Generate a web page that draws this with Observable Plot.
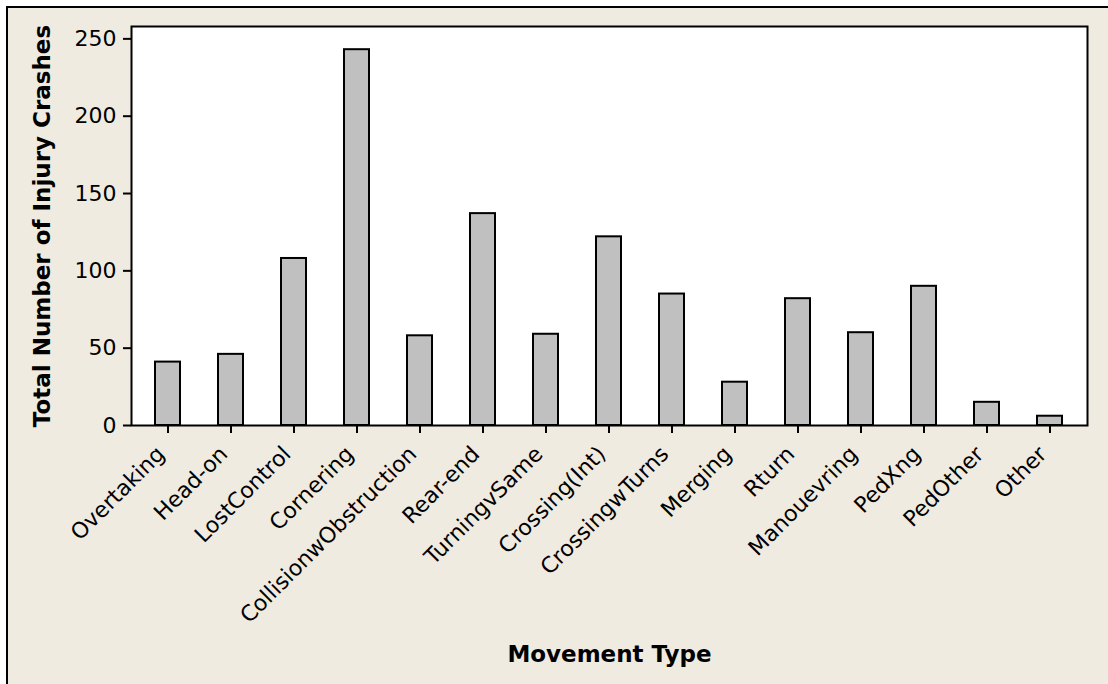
<!DOCTYPE html>
<html>
<head>
<meta charset="utf-8">
<script src="https://cdn.jsdelivr.net/npm/d3@7"></script>
<script src="https://cdn.jsdelivr.net/npm/@observablehq/plot@0.6"></script>
<style>
html,body{margin:0;padding:0;background:#fff;}
#wrap{position:relative;width:1108px;height:684px;overflow:hidden;}
#bg{position:absolute;left:6px;top:6px;right:0;bottom:0;background:#efebe1;border-left:2px solid #000;border-top:2px solid #000;}
#chart{position:absolute;left:0;top:0;}
</style>
</head>
<body>
<div id="wrap"><div id="bg"></div><div id="chart"></div></div>
<script>
const categories = ["Overtaking","Head-on","LostControl","Cornering","CollisionwObstruction","Rear-end","TurningvSame","Crossing(Int)","CrossingwTurns","Merging","Rturn","Manouevring","PedXng","PedOther","Other"];
const counts = [41,46,108,243,58,137,59,122,85,28,82,60,90,15,6];
const yTicks = [0,50,100,150,200,250];
const xTitle = "Movement Type";
const yTitle = "Total Number of Injury Crashes";

const data = categories.map((c, i) => ({type: c, count: counts[i]}));

const chart = Plot.plot({
  width: 1108,
  height: 684,
  marginLeft: 131,
  marginTop: 26,
  marginRight: 21,
  marginBottom: 259,
  style: {background: "transparent", fontFamily: "'DejaVu Sans', sans-serif", fontSize: "22px", color: "#000"},
  x: {domain: categories, paddingInner: 0.6, paddingOuter: 0.3, label: null},
  y: {domain: [0, 258], label: null},
  marks: [
    Plot.frame({fill: "#fff", stroke: null}),
    Plot.barY(data, {x: "type", y: "count", fill: "#c0c0c0", stroke: "#000", strokeWidth: 2}),
    Plot.frame({stroke: "#000", strokeWidth: 2}),
    Plot.axisY({ticks: yTicks, tickSize: 8, tickPadding: 7, label: null, stroke: "#000", strokeWidth: 2}),
    Plot.axisX({tickSize: 8, fill: "none", label: null, stroke: "#000", strokeWidth: 2}),
    Plot.axisX({tickSize: 0, tickPadding: 12, tickRotate: -45, dx: -7, dy: 13, label: null, fill: "#000"}),
    Plot.text([yTitle], {frameAnchor: "left", dx: -89, rotate: -90, fontWeight: "bold", fontSize: 23, textAnchor: "middle", lineAnchor: "middle", fill: "#000"}),
    Plot.text([xTitle], {frameAnchor: "bottom", dy: 229, fontWeight: "bold", fontSize: 23, textAnchor: "middle", lineAnchor: "middle", fill: "#000"})
  ]
});
document.getElementById("chart").appendChild(chart);
</script>
</body>
</html>
